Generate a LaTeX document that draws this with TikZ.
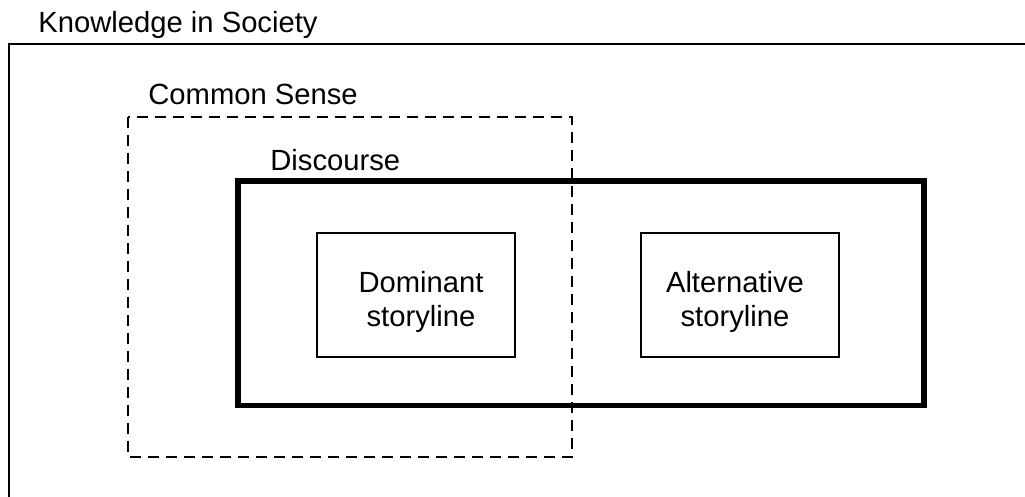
\documentclass[tikz,border=0pt]{standalone}
\usepackage{fontspec}
\setmainfont{Liberation Sans}

\tikzset{
  tag/.style={anchor=base west, inner sep=0pt},
  storybox/.style={draw, line width=1pt, minimum width=99pt, minimum height=62pt, inner sep=0pt},
  storytext/.style={align=center, inner sep=0pt}
}

\begin{document}
\begin{tikzpicture}[x=0.5pt, y=-0.5pt, font=\fontsize{14.6}{17}\selectfont]
\useasboundingbox (0,0) rectangle (1025,497);
\clip (0,0) rectangle (1025,497);
% society frame, runs off the page
\draw [line width=1.2pt] (9,530) -- (9,44) -- (1060,44);
\node [tag] (society) at (38,33) {Knowledge in Society};
% common sense (dashed)
\draw [line width=1.4pt, dash pattern=on 5.5pt off 3.5pt] (128,117) rectangle (572,457);
\node [tag] (common) at (148,105) {Common Sense};
% discourse
\draw [line width=2.8pt] (238,181) rectangle (924,405.5);
\node [tag] (discourse) at (270,171) {Discourse};
% storylines
\node [storybox] (dominant) at (416,295) {};
\node [storytext] (dominanttext) at (421,302) {Dominant\\storyline};
\node [storybox] (alternative) at (740,295) {};
\node [storytext] (alternativetext) at (735,302) {Alternative\\storyline};
\end{tikzpicture}
\end{document}
